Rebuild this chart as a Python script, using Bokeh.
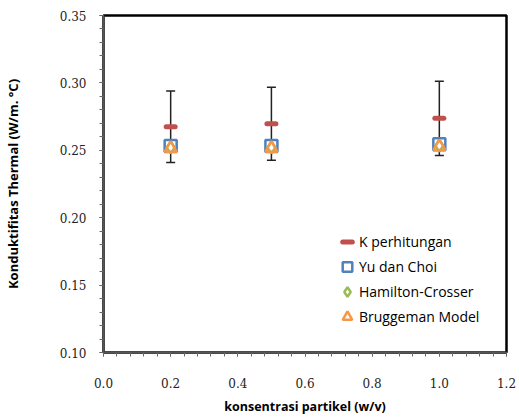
from bokeh.plotting import figure
from bokeh.models import (ColumnDataSource, Whisker, Legend, LegendItem,
                          FixedTicker, NumeralTickFormatter, Range1d, TeeHead)
from bokeh.embed import file_html
from bokeh.resources import INLINE

# data
konsentrasi = [0.2, 0.5, 1.0]
k_perhitungan = [0.2675, 0.2697, 0.2737]
k_error = [0.0265, 0.0270, 0.0275]
yu_dan_choi = [0.2531, 0.2531, 0.2544]
hamilton_crosser = [0.2522, 0.2522, 0.2535]
bruggeman = [0.2515, 0.2515, 0.2528]

x_ticks = [0.0, 0.2, 0.4, 0.6, 0.8, 1.0, 1.2]
y_ticks = [0.10, 0.15, 0.20, 0.25, 0.30, 0.35]

src = ColumnDataSource(dict(
    x=konsentrasi, k=k_perhitungan,
    upper=[a + b for a, b in zip(k_perhitungan, k_error)],
    lower=[a - b for a, b in zip(k_perhitungan, k_error)],
    yu=yu_dan_choi, ham=hamilton_crosser, brug=bruggeman))

p = figure(width=519, height=417, output_backend="svg", toolbar_location=None,
           x_range=Range1d(0, 1.2), y_range=Range1d(0.10, 0.35),
           min_border_left=103, min_border_right=13, min_border_top=15, min_border_bottom=64)

p.xgrid.visible = False
p.ygrid.visible = False
p.outline_line_color = "black"
p.outline_line_width = 2.5
p.background_fill_color = "white"
p.border_fill_color = "white"

# error bars
wh = Whisker(source=src, base="x", upper="upper", lower="lower",
             line_color="#222222", line_width=1.5,
             upper_head=TeeHead(size=9, line_color="#222222", line_width=1.5),
             lower_head=TeeHead(size=9, line_color="#222222", line_width=1.5))
p.add_layout(wh)

r_k = p.scatter("x", "k", source=src, marker="dash", size=9, line_width=5,
                line_color="#C0504D", line_cap="round")
r_yu = p.scatter("x", "yu", source=src, marker="square", size=12, line_width=2.5,
                 line_color="#4F81BD", fill_color="white")
r_ham = p.scatter("x", "ham", source=src, marker="diamond", size=12, line_width=2.5,
                  line_color="#9BBB59", fill_color="white")
r_br = p.scatter("x", "brug", source=src, marker="triangle", size=12, line_width=2.5,
                 line_color="#F79646", fill_alpha=0)

legend = Legend(items=[
    LegendItem(label="K perhitungan", renderers=[r_k]),
    LegendItem(label="Yu dan Choi", renderers=[r_yu]),
    LegendItem(label="Hamilton-Crosser", renderers=[r_ham]),
    LegendItem(label="Bruggeman Model", renderers=[r_br]),
], location=(230, 21))
legend.border_line_alpha = 0
legend.background_fill_alpha = 0
legend.padding = 2
legend.margin = 0
legend.spacing = 0
legend.label_height = 18
legend.glyph_height = 25
legend.glyph_width = 24
legend.label_standoff = 0
legend.label_text_font = "Open Sans"
legend.label_text_font_size = "14px"
legend.label_text_color = "black"
p.add_layout(legend)

# axes
xa = p.xaxis[0]
xa.ticker = FixedTicker(ticks=x_ticks,
                        minor_ticks=[i * 0.04 for i in range(31)])
xa.formatter = NumeralTickFormatter(format="0.0")
ya = p.yaxis[0]
ya.ticker = FixedTicker(ticks=y_ticks,
                        minor_ticks=[0.10 + i * 0.01 for i in range(26)])
ya.formatter = NumeralTickFormatter(format="0.00")

for ax in (xa, ya):
    ax.axis_line_color = "#555555"
    ax.axis_line_width = 2
    ax.major_tick_in = 0
    ax.major_tick_out = 4
    ax.minor_tick_in = 0
    ax.minor_tick_out = 4
    ax.major_tick_line_color = "#666666"
    ax.minor_tick_line_color = "#666666"
    ax.major_label_text_font = "DejaVu Serif"
    ax.major_label_text_font_size = "12px"
    ax.major_label_text_color = "#222222"
    ax.axis_label_text_font = "Open Sans"
    ax.axis_label_text_font_style = "bold"
    ax.axis_label_text_color = "black"

xa.axis_label = "konsentrasi partikel (w/v)"
xa.axis_label_text_font_size = "12.5px"
xa.major_label_standoff = 21
xa.axis_label_standoff = 7

ya.axis_label = "Konduktifitas Thermal (W/m. °C)"
ya.axis_label_text_font_size = "13px"
ya.major_label_standoff = 13
ya.axis_label_standoff = 35

open("out.html", "w").write(file_html(p, INLINE))
